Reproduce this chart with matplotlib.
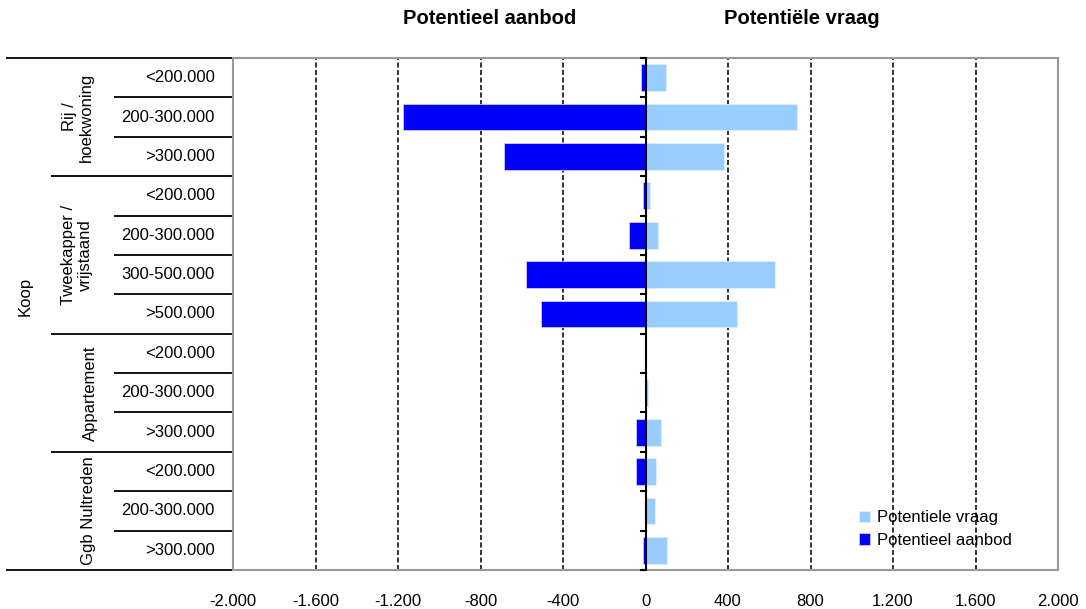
import matplotlib
matplotlib.use("Agg")
import matplotlib.pyplot as plt
import matplotlib.transforms as mtransforms
import numpy as np

plt.rcParams['font.family'] = ['Liberation Sans', 'DejaVu Sans']
plt.rcParams['font.size'] = 12

# price classes per housing type (top to bottom)
klassen = ['<200.000', '200-300.000', '>300.000',
           '<200.000', '200-300.000', '300-500.000', '>500.000',
           '<200.000', '200-300.000', '>300.000',
           '<200.000', '200-300.000', '>300.000']
groepen = ['Rij /\nhoekwoning', 'Tweekapper /\nvrijstaand', 'Appartement', 'Ggb Nultreden']
groep_grootte = [3, 4, 3, 3]
hoofdgroep = 'Koop'

vraag = [97, 735, 381, 21, 60, 629, 443, 0, 10, 74, 52, 45, 105]
aanbod = [-24, -1177, -685, -10, -78, -577, -508, 0, 0, -48, -48, 0, -10]

xticks = [-2000, -1600, -1200, -800, -400, 0, 400, 800, 1200, 1600, 2000]

W, H = 1086, 609
fig = plt.figure(figsize=(W / 100, H / 100), dpi=100)
x0, x1, y0, y1 = 233, 1058, 58, 570
ax = fig.add_axes([x0 / W, 1 - y1 / H, (x1 - x0) / W, (y1 - y0) / H])

n = len(klassen)
pos = np.arange(n)

ax.barh(pos, vraag, height=0.68, color='#99CCFF', edgecolor='#DDEEFF', lw=0.6,
        zorder=3, label='Potentiele vraag')
ax.barh(pos, aanbod, height=0.68, color='#0000FF', edgecolor='#CCCCFF', lw=0.6,
        zorder=3, label='Potentieel aanbod')

ax.set_xlim(-2000, 2000)
ax.set_ylim(n - 0.5, -0.5)
ax.set_xticks(xticks)
ax.set_xticklabels([f"{v:,}".replace(',', '.') for v in xticks])
ax.tick_params(axis='x', length=0, pad=17, labelsize=12)
ax.set_yticks([])

# dashed grid, solid zero axis
for v in xticks[1:-1]:
    if v == 0:
        continue
    ax.axvline(v, color='#111111', lw=1.2, ls=(0, (3, 1.5)), zorder=1)
ax.axvline(0, color='black', lw=1.5, zorder=4)
for b in np.arange(-0.5, n, 1.0):
    ax.plot([-20, 0], [b, b], color='black', lw=1.5, zorder=4, clip_on=False)

for s in ax.spines.values():
    s.set_color('#999999')
    s.set_linewidth(1.5)

# category labels on the left
tr = mtransforms.blended_transform_factory(fig.transFigure, ax.transData)
for i, k in enumerate(klassen):
    ax.text(215 / W, i, k, transform=tr, ha='right', va='center', fontsize=12)

grenzen = np.cumsum([0] + groep_grootte) - 0.5
for b in np.arange(-0.5, n, 1.0):
    if b in grenzen:
        start = 51 if b not in (grenzen[0], grenzen[-1]) else 6
    else:
        start = 114
    ax.plot([start / W, x0 / W], [b, b], transform=tr, color='black', lw=1.3,
            clip_on=False, solid_capstyle='butt')

groep_x = [78, 77, 90, 89]
for g, a, b, gx in zip(groepen, grenzen[:-1], grenzen[1:], groep_x):
    ax.text(gx / W, (a + b) / 2, g, transform=tr, rotation=90, ha='center',
            va='center', multialignment='center', fontsize=12, linespacing=1.15)
fig.text(25 / W, 1 - 296 / H, hoofdgroep, rotation=90, ha='center', va='center',
         fontsize=12)

fig.text(490 / W, 1 - 18 / H, 'Potentieel aanbod', ha='center', va='center',
         fontsize=14.5, fontweight='bold')
fig.text(802 / W, 1 - 18 / H, 'Potentiële vraag', ha='center', va='center',
         fontsize=14.5, fontweight='bold')

ax.legend(loc='upper left', bbox_to_anchor=(851 / W, 1 - 502 / H),
          bbox_transform=fig.transFigure, frameon=False, fontsize=12,
          handlelength=0.65, handleheight=0.65, handletextpad=0.4,
          labelspacing=0.45, borderpad=0)

fig.savefig('out.png', dpi=100)
